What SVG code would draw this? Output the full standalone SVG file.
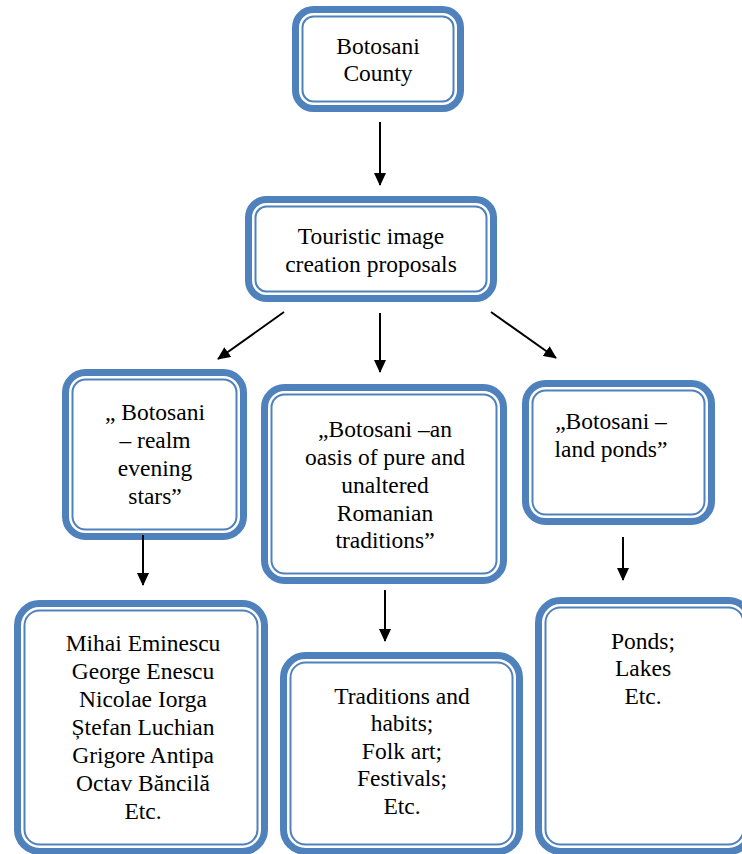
<svg xmlns="http://www.w3.org/2000/svg" width="742" height="854" viewBox="0 0 742 854">
<style>
.o{fill:#fff;stroke:#4F81BD;stroke-width:7}
.i{fill:none;stroke:#4F81BD;stroke-width:2}
text{font-family:'Liberation Serif','Times New Roman','DejaVu Serif',serif;font-size:23.5px;fill:#000;text-anchor:middle}
.c{stroke:#000;stroke-width:2;fill:none;marker-end:url(#ah)}
</style>
<defs>
<marker id="ah" markerWidth="14" markerHeight="12" refX="12" refY="6" orient="auto" markerUnits="userSpaceOnUse">
<path d="M0,0 L13,6 L0,12 Z" fill="#000"/>
</marker>
</defs>
<g id="n1">
<rect class="o" x="295.5" y="9.5" width="165" height="99" rx="18"/>
<rect class="i" x="302.5" y="16.5" width="151" height="85" rx="11"/>
<text x="378" y="54">Botosani</text>
<text x="378" y="81">County</text>
</g>
<g id="n2">
<rect class="o" x="248.5" y="199.5" width="245" height="99" rx="18"/>
<rect class="i" x="255.5" y="206.5" width="231" height="85" rx="11"/>
<text x="371" y="244">Touristic image</text>
<text x="371" y="272">creation proposals</text>
</g>
<g id="n3">
<rect class="o" x="65.5" y="372.5" width="178" height="164" rx="20"/>
<rect class="i" x="72.5" y="379.5" width="164" height="150" rx="13"/>
<text x="155" y="420">„ Botosani</text>
<text x="155" y="448">– realm</text>
<text x="155" y="476">evening</text>
<text x="155" y="504">stars”</text>
</g>
<g id="n4">
<rect class="o" x="264.5" y="387.5" width="239" height="193" rx="20"/>
<rect class="i" x="271.5" y="394.5" width="225" height="179" rx="13"/>
<text x="385" y="437">„Botosani –an</text>
<text x="385" y="465">oasis of pure and</text>
<text x="385" y="493">unaltered</text>
<text x="385" y="521">Romanian</text>
<text x="385" y="548">traditions”</text>
</g>
<g id="n5">
<rect class="o" x="525.5" y="383.5" width="186" height="138" rx="20"/>
<rect class="i" x="532.5" y="390.5" width="172" height="124" rx="13"/>
<text x="611" y="429">„Botosani –</text>
<text x="611" y="457">land ponds”</text>
</g>
<g id="n6">
<rect class="o" x="17.5" y="603.5" width="247" height="248" rx="22"/>
<rect class="i" x="24.5" y="610.5" width="233" height="234" rx="15"/>
<text x="143" y="651">Mihai Eminescu</text>
<text x="143" y="679">George Enescu</text>
<text x="143" y="707">Nicolae Iorga</text>
<text x="143" y="735">Ștefan Luchian</text>
<text x="143" y="763">Grigore Antipa</text>
<text x="143" y="791">Octav Băncilă</text>
<text x="143" y="819">Etc.</text>
</g>
<g id="n7">
<rect class="o" x="283.5" y="655.5" width="236" height="196" rx="22"/>
<rect class="i" x="290.5" y="662.5" width="222" height="182" rx="15"/>
<text x="402" y="704">Traditions and</text>
<text x="402" y="731">habits;</text>
<text x="402" y="759">Folk art;</text>
<text x="402" y="786">Festivals;</text>
<text x="402" y="814">Etc.</text>
</g>
<g id="n8">
<rect class="o" x="538.5" y="600.5" width="212" height="251" rx="22"/>
<rect class="i" x="545.5" y="607.5" width="198" height="237" rx="15"/>
<text x="643" y="649">Ponds;</text>
<text x="643" y="676">Lakes</text>
<text x="643" y="704">Etc.</text>
</g>
<g id="connectors">
<line class="c" x1="380" y1="122" x2="380" y2="185"/>
<line class="c" x1="284" y1="312" x2="218" y2="359"/>
<line class="c" x1="380" y1="313" x2="380" y2="372"/>
<line class="c" x1="491" y1="312" x2="556" y2="358"/>
<line class="c" x1="143" y1="535" x2="143" y2="585"/>
<line class="c" x1="385" y1="590" x2="385" y2="641"/>
<line class="c" x1="623" y1="537" x2="623" y2="580"/>
</g>
</svg>
